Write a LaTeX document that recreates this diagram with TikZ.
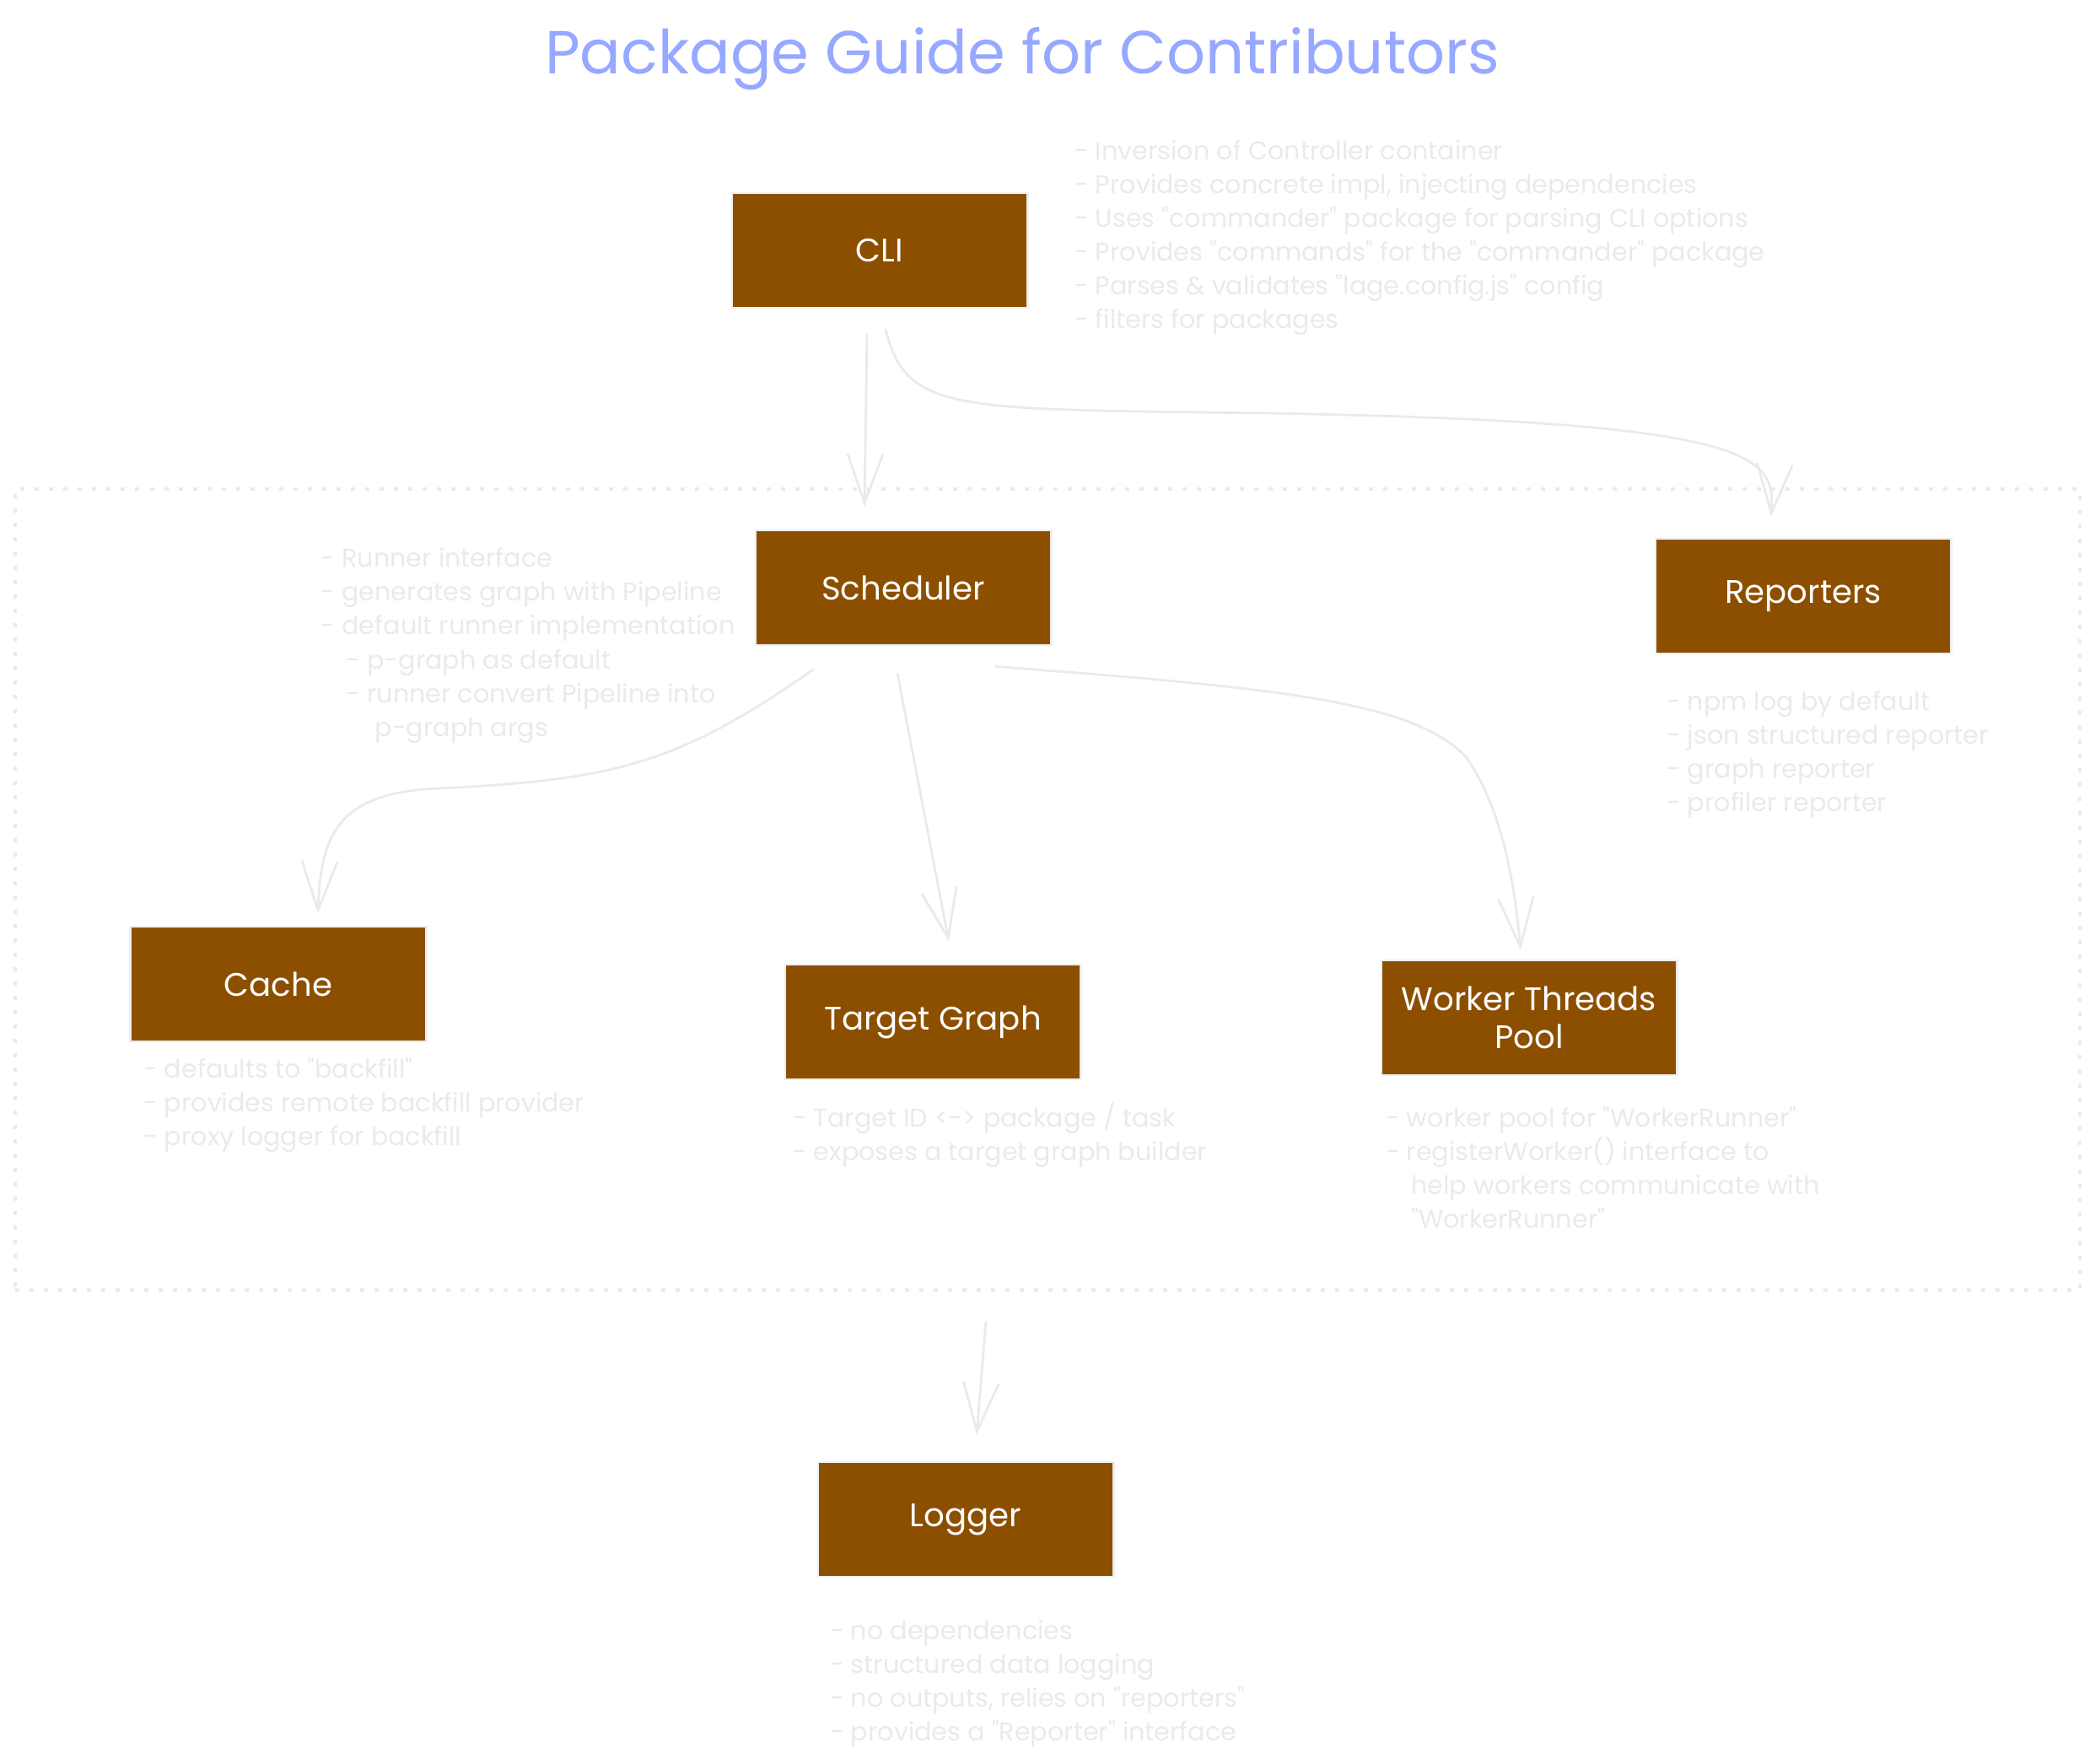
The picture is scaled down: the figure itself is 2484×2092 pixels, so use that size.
\documentclass[tikz,border=0pt]{standalone}
\usepackage{fontspec}
\setmainfont{Poppins}[Ligatures=TeXOff]
\usepackage{tikz}
\usetikzlibrary{arrows.meta,positioning}
\definecolor{PkgBrown}{HTML}{8C4F00}
\definecolor{PkgEdge}{HTML}{EEEEEE}
\definecolor{PkgNote}{HTML}{EAEAEA}
\definecolor{PkgTitle}{HTML}{96A8FF}

\begin{document}
\begin{tikzpicture}[
  x=0.01cm, y=-0.01cm,
  pkg/.style={draw=PkgEdge, line width=0.8pt, fill=PkgBrown, text=white, align=center, minimum width=3.5cm, minimum height=1.36cm, font=\fontsize{11}{13}\selectfont},
  note/.style={text=PkgNote, align=left, inner sep=0pt, anchor=north west, font=\fontsize{8.6}{11.4}\selectfont},
  zone/.style={draw=PkgNote, line width=1.2pt, dash pattern=on 0.05cm off 0.12cm},
  flow/.style={-{Straight Barb[length=0.58cm, width=0.42cm]}, draw=PkgNote, line width=0.8pt}
]
\useasboundingbox (0,0) rectangle (2484,2092);
\node[text=PkgTitle, font=\fontsize{20.5}{24}\selectfont] (title) at (1212,70) {Package Guide for Contributors};

\node[zone, minimum width=24.46cm, minimum height=9.5cm] (core) at (1242,1055) {};

\node[pkg] (cli) at (1043,297) {CLI};
\node[pkg] (sched) at (1071,697) {Scheduler};
\node[pkg] (rep) at (2138,707) {Reporters};
\node[pkg] (cache) at (330,1167) {Cache};
\node[pkg] (tgraph) at (1106,1212) {Target Graph};
\node[pkg] (pool) at (1813,1207) {Worker Threads\\Pool};
\node[pkg] (logger) at (1145,1802) {Logger};

% notes
\node[note] (clinote) at ([shift={(54,-62)}]cli.north east) {- Inversion of Controller container\\- Provides concrete impl, injecting dependencies\\- Uses "commander" package for parsing CLI options\\- Provides "commands" for the "commander" package\\- Parses \& validates "lage.config.js" config\\- filters for packages};
\node[note] (schednote) at (380,649) {- Runner interface\\- generates graph with Pipeline\\- default runner implementation\\\hspace*{0.3cm}- p-graph as default\\\hspace*{0.3cm}- runner convert Pipeline into\\\hspace*{0.64cm}p-graph args};
\node[note, below right=0.42cm and 0.14cm of rep.south west] (repnote) {- npm log by default\\- json structured reporter\\- graph reporter\\- profiler reporter};
\node[note, below right=0.17cm and 0.16cm of cache.south west] (cachenote) {- defaults to "backfill"\\- provides remote backfill provider\\- proxy logger for backfill};
\node[note, below right=0.26cm and 0.1cm of tgraph.south west] (tgraphnote) {- Target ID <-> package / task\\- exposes a target graph builder};
\node[note, below right=0.35cm and 0.06cm of pool.south west] (poolnote) {- worker pool for "WorkerRunner"\\- registerWorker() interface to\\\hspace*{0.3cm}help workers communicate with\\\hspace*{0.3cm}"WorkerRunner"};
\node[note, below right=0.49cm and 0.15cm of logger.south west] (loggernote) {- no dependencies\\- structured data logging\\- no outputs, relies on "reporters"\\- provides a "Reporter" interface};

% connectors
\draw[flow] ([shift={(-15,29)}]cli.south) -- ([shift={(-46,-27)}]sched.north);
\draw[flow] ([shift={(7,24)}]cli.south) .. controls (1075,490) and (1130,485) .. (1500,490) .. controls (2085,500) and (2105,540) .. ([shift={(-38,-25)}]rep.north);
\draw[flow] ([shift={(-106,27)}]sched.south) .. controls (800,910) and (720,925) .. (520,935) .. controls (400,940) and (380,990) .. ([shift={(47,-14)}]cache.north);
\draw[flow] ([shift={(-7,32)}]sched.south) -- ([shift={(19,-26)}]tgraph.north);
\draw[flow] ([shift={(109,24)}]sched.south) .. controls (1500,815) and (1680,830) .. (1740,900) .. controls (1780,960) and (1795,1040) .. ([shift={(-10,-11)}]pool.north);
\draw[flow] ([shift={(-73,35)}]core.south) -- ([shift={(13,-31)}]logger.north);
\end{tikzpicture}
\end{document}
